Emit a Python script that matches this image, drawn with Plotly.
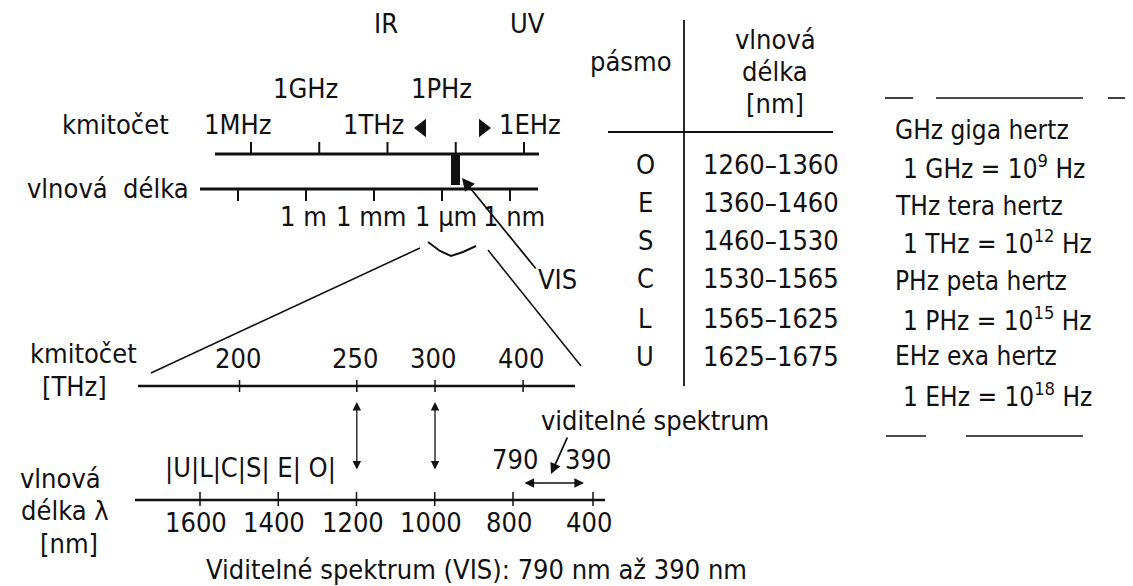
import numpy as np
import plotly.graph_objects as go

# ---------------- data ----------------
freq_exponents = [6, 9, 12, 15, 18]
freq_labels = ["1MHz", "1GHz", "1THz", "1PHz", "1EHz"]
wl_exponents = [3, 0, -3, -6, -9]
wl_labels = ["", "1 m", "1 mm", "1 µm", "1 nm"]
thz_values = [200, 250, 300, 400]
nm_ticks = [1600, 1400, 1200, 1000, 800, 400]
arrow_thz = [250, 300]
vis_range = [790, 390]
bands = ["O", "E", "S", "C", "L", "U"]
band_ranges = ["1260–1360", "1360–1460", "1460–1530", "1530–1565", "1565–1625", "1625–1675"]
unit_names = ["GHz giga hertz", "THz tera hertz", "PHz peta hertz", "EHz exa hertz"]
unit_defs = ["1 GHz = 10<sup>9</sup> Hz", "1 THz = 10<sup>12</sup> Hz",
             "1 PHz = 10<sup>15</sup> Hz", "1 EHz = 10<sup>18</sup> Hz"]
band_string = "|U|L|C|S| E| O|"

# ---------------- scales (pixel geometry of the drawing) ----------------
W, H = 1133, 586
FONT = "DejaVu Sans Condensed, Liberation Sans Narrow, sans-serif"
FS = 27
C_LIGHT = 299792.458  # nm*THz


def x_freq(e):
    return 243 + (e - 6) * 22.75


def x_wl(e):
    return 298 - e * 22.67


def x_nm(nm):
    return float(np.interp(nm, [400, 800, 1600], [585, 505, 192]))


def x_thz(f):
    return x_nm(C_LIGHT / f)


fig = go.Figure()
annotations = []


def line(xs, ys, w=2.5):
    fig.add_trace(go.Scatter(x=xs, y=ys, mode="lines", line=dict(color="#111", width=w),
                             hoverinfo="skip", showlegend=False))


def text(x, y, s, size=FS, anchor="center"):
    annotations.append(dict(x=x, y=y, text=s, showarrow=False, xanchor=anchor, yanchor="middle",
                            font=dict(family=FONT, size=size, color="#111")))


def arrow(x0, y0, x1, y1, side="end", w=1.5, head=2, size=1.2):
    annotations.append(dict(x=x1, y=y1, ax=x0, ay=y0, axref="x", ayref="y", xref="x", yref="y",
                            text="", showarrow=True, arrowhead=head, arrowside=side,
                            arrowwidth=w, arrowsize=size, arrowcolor="#111",
                            startarrowhead=head, startarrowsize=size))


# ---------------- top overview scale ----------------
Y_F, Y_W = 146, 181
text(378, 15, "IR")
text(519, 15, "UV")
text(107, 116, "kmitočet")
for i, (e, lab) in enumerate(zip(freq_exponents, freq_labels)):
    x = x_freq(e)
    text(x - 14 if i < 4 else x + 6, 116 if i % 2 == 0 else 80, lab)
    line([x, x], [Y_F - 12, Y_F], 2)
line([207, 531], [Y_F, Y_F], 3)
fig.add_trace(go.Scatter(x=[414, 475], y=[120, 120], mode="markers",
                         marker=dict(symbol=["triangle-left", "triangle-right"], size=16, color="#111"),
                         hoverinfo="skip", showlegend=False))

text(100, 180, "vlnová  délka")
line([192, 530], [Y_W, Y_W], 3)
for e, lab in zip(wl_exponents, wl_labels):
    x = x_wl(e)
    line([x, x], [Y_W, Y_W + 12], 2)
    if lab:
        text(x + (4 if e <= -6 else -3), 208, lab)

# visible band marker and VIS pointer
fig.add_shape(type="rect", x0=443, x1=452, y0=Y_F, y1=177, fillcolor="#111", line=dict(width=0))
arrow(529, 262, 454, 170, w=1.8, head=2, size=1.4)
text(549, 271, "VIS")

# zoom brace and funnel lines
line([420, 432, 443, 455, 468], [234, 243, 248, 244, 238], 2)
line([412, 143], [240, 365], 1.6)
line([480, 573], [242, 358], 1.6)

# ---------------- detailed scale ----------------
Y_T, Y_N = 378, 492
text(75, 345, "kmitočet")
text(66, 378, "[THz]")
line([130, 567], [Y_T, Y_T], 2.5)
for f in thz_values:
    x = x_thz(f)
    line([x, x], [Y_T - 6, Y_T + 6], 1.5)
    text(x - 2, 350, str(f))

for f in arrow_thz:
    x = x_thz(f)
    arrow(x, 463, x, 394, side="end+start", w=1.3, head=2, size=1.3)

text(242, 460, band_string)
text(647, 412, "viditelné spektrum")
text(x_nm(vis_range[0]), 451, str(vis_range[0]))
text(x_nm(vis_range[1]) - 5, 451, str(vis_range[1]))
arrow(560, 428, 543, 466, w=1.8, head=2, size=1.2)
arrow(x_nm(vis_range[0]) + 8, 475, x_nm(vis_range[1]) - 9, 475, side="end+start", w=1.6, head=2, size=1.2)

text(52, 470, "vlnová")
text(57, 502, "délka λ")
text(61, 535, "[nm]")
line([127, 597], [Y_N, Y_N], 2.5)
for nm in nm_ticks:
    x = x_nm(nm)
    line([x, x], [Y_N - 8, Y_N + 6], 1.5)
    text(x - 4, 514, str(nm))

text(468, 561, "Viditelné spektrum (VIS): 790 nm až 390 nm")

# ---------------- band table ----------------
text(623, 53, "pásmo")
text(767, 31, "vlnová")
text(767, 63, "délka")
text(767, 95, "[nm]")
line([676, 676], [12, 378], 1.8)
line([600, 825], [124, 124], 2.2)
row_y = [156, 194, 232, 270, 310, 348]
for b, r, y in zip(bands, band_ranges, row_y):
    text(637, y, b)
    text(763, y, r)

# ---------------- unit definitions ----------------
line([877, 905, None, 928, 1075, None, 1100, 1127], [90, 90, None, 90, 90, None, 90, 90], 1.6)
line([878, 918, None, 958, 1075, None, 1118, 1128], [428, 428, None, 428, 428, None, 428, 428], 1.6)
name_y = [122, 198, 273, 348]
def_y = [159, 234, 311, 387]
for n, d, yn, yd in zip(unit_names, unit_defs, name_y, def_y):
    text(885, yn, n, size=26, anchor="left")
    text(893, yd, d, size=26, anchor="left")

fig.update_layout(
    width=W, height=H, margin=dict(l=0, r=0, t=0, b=0),
    paper_bgcolor="white", plot_bgcolor="white",
    xaxis=dict(range=[0, W], visible=False, fixedrange=True),
    yaxis=dict(range=[H, 0], visible=False, fixedrange=True),
    annotations=annotations, showlegend=False,
)
fig.write_html("out.html")
